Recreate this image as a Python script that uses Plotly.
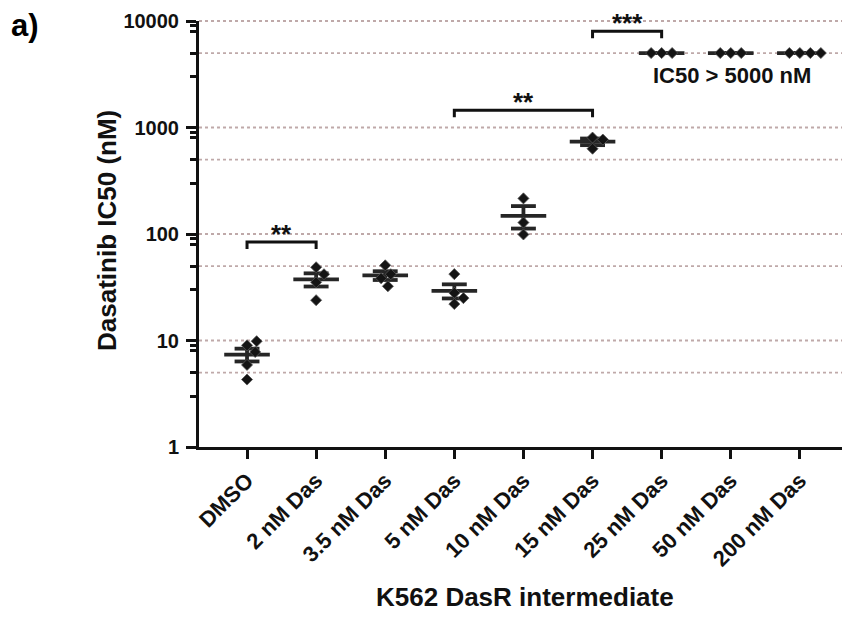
import numpy as np
import plotly.graph_objects as go

# ---------------- data ----------------
categories = ["DMSO", "2 nM Das", "3.5 nM Das", "5 nM Das", "10 nM Das",
              "15 nM Das", "25 nM Das", "50 nM Das", "200 nM Das"]
dmso = [9.0, 9.85, 7.8, 5.9, 4.3]
das_2 = [48.7, 41.9, 35.2, 23.9]
das_3_5 = [50.8, 41.9, 38.4, 32.3]
das_5 = [42.0, 28.0, 25.0, 22.0]
das_10 = [216.0, 128.0, 99.0]
das_15 = [804.0, 632.0, 770.0]
das_25 = [5000.0, 5000.0, 5000.0]
das_50 = [5000.0, 5000.0, 5000.0]
das_200 = [5000.0, 5000.0, 5000.0, 5000.0]
groups = [dmso, das_2, das_3_5, das_5, das_10, das_15, das_25, das_50, das_200]

y_tick_vals = [1, 10, 100, 1000, 10000]
y_tick_labels = ["1", "10", "100", "1000", "10000"]
y_minor_vals = [m * 10 ** k for k in range(4) for m in (3, 5, 8, 9)]
grid_vals = [5, 10, 50, 100, 500, 1000, 5000, 10000]

comparisons = [(0, 1, "**"), (3, 5, "**"), (5, 6, "***")]
note_text = "IC50 > 5000 nM"

# ---------------- layout geometry ----------------
W, H = 842, 617
ML, MR, MT, MB = 199, 0, 21, 170
PW, PH = W - ML - MR, H - MT - MB
X_RANGE = [-0.695, 8.61]
Y_RANGE = [0, 4]
PX_CAT = PW / (X_RANGE[1] - X_RANGE[0])
PX_DEC = PH / (Y_RANGE[1] - Y_RANGE[0])

bracket_levels = [84, 1450, 8000]
bracket_drop = 7  # px

FONT = "Liberation Sans, Arial, Helvetica, sans-serif"


def swarm(vals, d=10.5):
    ys = np.log10(np.asarray(vals, float)) * PX_DEC
    placed = []
    offs = []
    for y in ys:
        cands = [0.0]
        for (px, py) in placed:
            dy = y - py
            if abs(dy) < d:
                dx = np.sqrt(d * d - dy * dy)
                cands += [px + dx, px - dx]
        best = None
        for c in sorted(cands, key=lambda v: (round(abs(v), 6), -v)):
            if all((c - px) ** 2 + (y - py) ** 2 >= d * d - 1e-6 for px, py in placed):
                best = c
                break
        placed.append((best, y))
        offs.append(best / PX_CAT)
    return offs


fig = go.Figure()

# gridlines (dotted) as paper shapes below traces
for gv in grid_vals:
    yp = (np.log10(gv) - Y_RANGE[0]) / (Y_RANGE[1] - Y_RANGE[0])
    fig.add_shape(type="line", xref="paper", yref="paper", x0=0, x1=1, y0=yp, y1=yp,
                  line=dict(color="#bfa9a9", width=1.8, dash="dot"), layer="below")

# mean + SEM lines
lx, ly = [], []
for i, g in enumerate(groups):
    a = np.asarray(g, float)
    m = a.mean()
    s = a.std(ddof=1) / np.sqrt(len(a)) if len(a) > 1 else 0.0
    lx += [i - 0.33, i + 0.33, None]
    ly += [m, m, None]
    lx += [i, i, None]
    ly += [max(m - s, 1e-9), m + s, None]
    for v in (m - s, m + s):
        lx += [i - 0.18, i + 0.18, None]
        ly += [v, v, None]
fig.add_trace(go.Scatter(x=lx, y=ly, mode="lines",
                         line=dict(color="#262626", width=3.8),
                         hoverinfo="skip", showlegend=False, cliponaxis=False))

# points
px_, py_ = [], []
for i, g in enumerate(groups):
    offs = swarm(g)
    px_ += [i + o for o in offs]
    py_ += list(g)
fig.add_trace(go.Scatter(x=px_, y=py_, mode="markers",
                         marker=dict(symbol="diamond", size=8.5, color="#141414",
                                     line=dict(color="#555555", width=0.8)),
                         showlegend=False, cliponaxis=False))

# brackets
for (a, b, stars), lev in zip(comparisons, bracket_levels):
    low = 10 ** (np.log10(lev) - bracket_drop / PX_DEC)
    fig.add_trace(go.Scatter(x=[a, a, b, b], y=[low, lev, lev, low], mode="lines",
                             line=dict(color="#111111", width=3),
                             hoverinfo="skip", showlegend=False, cliponaxis=False))
    fig.add_annotation(x=(a + b) / 2, y=np.log10(lev), xref="x", yref="y",
                       text=stars, showarrow=False, xanchor="center", yanchor="bottom",
                       yshift=-9,
                       font=dict(family=FONT, size=26, color="#111111", weight="bold"))

# note
fig.add_annotation(x=7.02, y=np.log10(3090), xref="x", yref="y", text=note_text,
                   showarrow=False, xanchor="center", yanchor="middle",
                   font=dict(family=FONT, size=22, color="#111111", weight="bold"))

# panel label
fig.add_annotation(x=(9 - ML) / PW, y=(H - MB - 6) / PH, xref="paper", yref="paper",
                   text="a)", showarrow=False, xanchor="left", yanchor="top",
                   font=dict(family=FONT, size=31, color="#000000", weight="bold"))

# axis titles
fig.add_annotation(x=(107 - ML) / PW, y=((H - MB) - 231) / PH, xref="paper", yref="paper",
                   text="Dasatinib IC50 (nM)", textangle=-90, showarrow=False,
                   xanchor="center", yanchor="middle",
                   font=dict(family=FONT, size=26, color="#111111", weight="bold"))
fig.add_annotation(x=(525 - ML) / PW, y=((H - MB) - 597) / PH, xref="paper", yref="paper",
                   text="K562 DasR intermediate", showarrow=False,
                   xanchor="center", yanchor="middle",
                   font=dict(family=FONT, size=26, color="#111111", weight="bold"))

fig.update_layout(
    width=W, height=H,
    margin=dict(l=ML, r=MR, t=MT, b=MB),
    paper_bgcolor="white", plot_bgcolor="white",
    showlegend=False,
    xaxis=dict(range=X_RANGE, tickmode="array", tickvals=list(range(len(categories))),
               ticktext=categories, tickangle=-45, ticks="outside", ticklen=9,
               tickwidth=3, tickcolor="#111111", showline=True, linewidth=3,
               linecolor="#111111", showgrid=False, zeroline=False,
               tickfont=dict(family=FONT, size=22, color="#111111", weight="bold")),
    yaxis=dict(type="log", range=Y_RANGE, tickmode="array", tickvals=y_tick_vals,
               ticktext=y_tick_labels, ticks="outside", ticklen=10, tickwidth=3,
               tickcolor="#111111", showline=True, linewidth=3, linecolor="#111111",
               showgrid=False, zeroline=False, ticklabelstandoff=3,
               minor=dict(tickmode="array", tickvals=y_minor_vals, ticks="outside",
                          ticklen=6, tickwidth=2.5, tickcolor="#111111", showgrid=False),
               tickfont=dict(family=FONT, size=20, color="#111111", weight="bold")),
)

fig.write_html("out.html")
